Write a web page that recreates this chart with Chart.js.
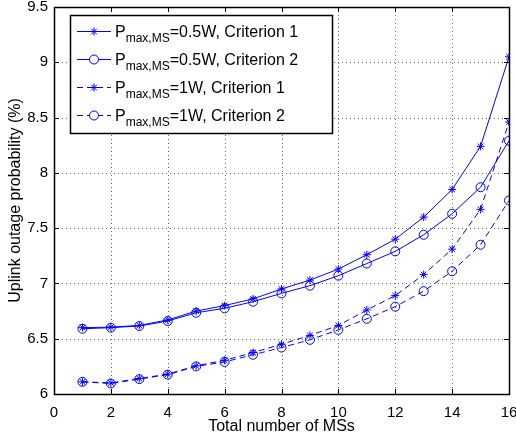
<!DOCTYPE html>
<html>
<head>
<meta charset="utf-8">
<script src="https://cdn.jsdelivr.net/npm/chart.js@4.4.0/dist/chart.umd.min.js"></script>
<style>
  html, body { margin: 0; padding: 0; background: #fff; }
  #wrap { width: 516px; height: 436px; position: relative; }
</style>
</head>
<body>
<div id="wrap"><canvas id="myChart" width="516" height="436"></canvas></div>
<script>
// data
var numMS = [1, 2, 3, 4, 5, 6, 7, 8, 9, 10, 11, 12, 13, 14, 15, 16];
var half_c1 = [6.60, 6.605, 6.62, 6.67, 6.75, 6.80, 6.86, 6.95, 7.03, 7.13, 7.26, 7.40, 7.60, 7.85, 8.24, 9.05];
var half_c2 = [6.59, 6.60, 6.615, 6.66, 6.735, 6.775, 6.835, 6.91, 6.98, 7.07, 7.18, 7.29, 7.44, 7.63, 7.87, 8.29];
var one_c1 = [6.11, 6.10, 6.14, 6.18, 6.255, 6.305, 6.375, 6.45, 6.53, 6.62, 6.76, 6.89, 7.08, 7.31, 7.67, 8.46];
var one_c2 = [6.11, 6.095, 6.135, 6.175, 6.25, 6.29, 6.355, 6.42, 6.49, 6.58, 6.68, 6.79, 6.93, 7.11, 7.35, 7.75];
var seriesNames = ["=0.5W, Criterion 1", "=0.5W, Criterion 2", "=1W, Criterion 1", "=1W, Criterion 2"];
var xTicks = [0, 2, 4, 6, 8, 10, 12, 14, 16];
var yTicks = [6, 6.5, 7, 7.5, 8, 8.5, 9, 9.5];

var blue = 'rgb(0,0,255)';
var FONT = 'Arial, Helvetica, sans-serif';

function pts(ys) {
    return numMS.map(function (x, i) { return { x: x, y: ys[i] }; });
}

function makeSet(label, ys, style, dashed) {
    return {
        label: label,
        data: pts(ys),
        borderColor: blue,
        backgroundColor: 'rgba(0,0,0,0)',
        borderWidth: 1,
        borderDash: dashed ? [6, 4] : [],
        pointStyle: style,
        pointRadius: style == 'star' ? 4 : 4.5,
        pointBorderColor: blue,
        pointBackgroundColor: 'rgba(0,0,0,0)',
        pointBorderWidth: 1,
        tension: 0
    };
}

// dotted grid under the lines
var dottedGrid = {
    id: 'dottedGrid',
    beforeDatasetsDraw: function (chart) {
        var ctx = chart.ctx;
        var a = chart.chartArea;
        var xs = chart.scales.x, ys = chart.scales.y;
        ctx.save();
        ctx.strokeStyle = '#666';
        ctx.lineWidth = 1;
        ctx.setLineDash([1, 3]);
        ctx.beginPath();
        xTicks.forEach(function (t) {
            var px = Math.round(xs.getPixelForValue(t)) + 0.5;
            ctx.moveTo(px, a.top); ctx.lineTo(px, a.bottom);
        });
        yTicks.forEach(function (t) {
            var py = Math.round(ys.getPixelForValue(t)) + 0.5;
            ctx.moveTo(a.left, py); ctx.lineTo(a.right, py);
        });
        ctx.stroke();
        ctx.restore();
    }
};

// frame, inner ticks and legend drawn by hand (Matlab look)
var matlabLook = {
    id: 'matlabLook',
    afterDraw: function (chart) {
        var ctx = chart.ctx;
        var a = chart.chartArea;
        var xs = chart.scales.x, ys = chart.scales.y;
        ctx.save();
        ctx.strokeStyle = '#000';
        ctx.lineWidth = 1;
        ctx.setLineDash([]);
        ctx.beginPath();
        xTicks.forEach(function (t) {
            var px = Math.round(xs.getPixelForValue(t)) + 0.5;
            ctx.moveTo(px, a.bottom); ctx.lineTo(px, a.bottom - 5);
            ctx.moveTo(px, a.top); ctx.lineTo(px, a.top + 5);
        });
        yTicks.forEach(function (t) {
            var py = Math.round(ys.getPixelForValue(t)) + 0.5;
            ctx.moveTo(a.left, py); ctx.lineTo(a.left + 5, py);
            ctx.moveTo(a.right, py); ctx.lineTo(a.right - 5, py);
        });
        ctx.stroke();
        ctx.lineWidth = 1.5;
        ctx.strokeRect(Math.round(a.left) + 0.5, Math.round(a.top) + 0.5,
            Math.round(a.right - a.left), Math.round(a.bottom - a.top));

        // legend
        var lx = 70, ly = 15, lw = 262, lh = 118;
        ctx.fillStyle = '#fff';
        ctx.fillRect(lx, ly, lw, lh);
        ctx.lineWidth = 1.5;
        ctx.strokeRect(lx + 0.5, ly + 0.5, lw, lh);
        var rows = [31, 59, 87, 115];
        chart.data.datasets.forEach(function (ds, i) {
            var y = rows[i] + 0.5;
            ctx.strokeStyle = blue;
            ctx.lineWidth = 1;
            ctx.setLineDash(ds.borderDash);
            ctx.beginPath();
            ctx.moveTo(77, y); ctx.lineTo(111, y);
            ctx.stroke();
            ctx.setLineDash([]);
            ctx.fillStyle = '#fff';
            Chart.helpers.drawPoint(ctx, {
                pointStyle: ds.pointStyle, radius: ds.pointRadius, borderWidth: 1
            }, 94, y);
            ctx.fillStyle = '#000';
            ctx.textBaseline = 'alphabetic';
            ctx.textAlign = 'left';
            ctx.font = '16px ' + FONT;
            var tx = 115;
            ctx.fillText('P', tx, y + 5);
            tx += ctx.measureText('P').width;
            ctx.font = '12px ' + FONT;
            ctx.fillText('max,MS', tx, y + 10);
            tx += ctx.measureText('max,MS').width;
            ctx.font = '16px ' + FONT;
            ctx.fillText(ds.label, tx, y + 5);
        });
        ctx.restore();
    }
};

var ctx = document.getElementById('myChart').getContext('2d');
var chart = new Chart(ctx, {
    type: 'line',
    data: {
        datasets: [
            makeSet(seriesNames[0], half_c1, 'star', false),
            makeSet(seriesNames[1], half_c2, 'circle', false),
            makeSet(seriesNames[2], one_c1, 'star', true),
            makeSet(seriesNames[3], one_c2, 'circle', true)
        ]
    },
    options: {
        responsive: false,
        animation: false,
        layout: { padding: { top: 7, right: 7, left: 6, bottom: 0 } },
        plugins: { legend: { display: false }, tooltip: { enabled: false } },
        scales: {
            x: {
                type: 'linear', min: 0, max: 16,
                afterBuildTicks: function (s) { s.ticks = xTicks.map(function (v) { return { value: v }; }); },
                afterFit: function (s) { s.height = 42; s.paddingLeft = 0; s.paddingRight = 0; },
                grid: { display: false, drawTicks: false },
                border: { display: false },
                ticks: { color: '#000', font: { family: FONT, size: 15 }, padding: 10, maxRotation: 0 },
                title: { display: true, text: 'Total number of MSs', color: '#000',
                    font: { family: FONT, size: 16 }, padding: { top: 0, bottom: 0 } }
            },
            y: {
                type: 'linear', min: 6, max: 9.5,
                afterBuildTicks: function (s) { s.ticks = yTicks.map(function (v) { return { value: v }; }); },
                afterFit: function (s) { s.width = 48; s.paddingTop = 0; s.paddingBottom = 0; },
                grid: { display: false, drawTicks: false },
                border: { display: false },
                ticks: { color: '#000', font: { family: FONT, size: 15 }, padding: 6,
                    callback: function (v) { return String(v); } },
                title: { display: true, text: 'Uplink outage probability (%)', color: '#000',
                    font: { family: FONT, size: 16 }, padding: { top: 0, bottom: 0 } }
            }
        }
    },
    plugins: [dottedGrid, matlabLook]
});
</script>
</body>
</html>
